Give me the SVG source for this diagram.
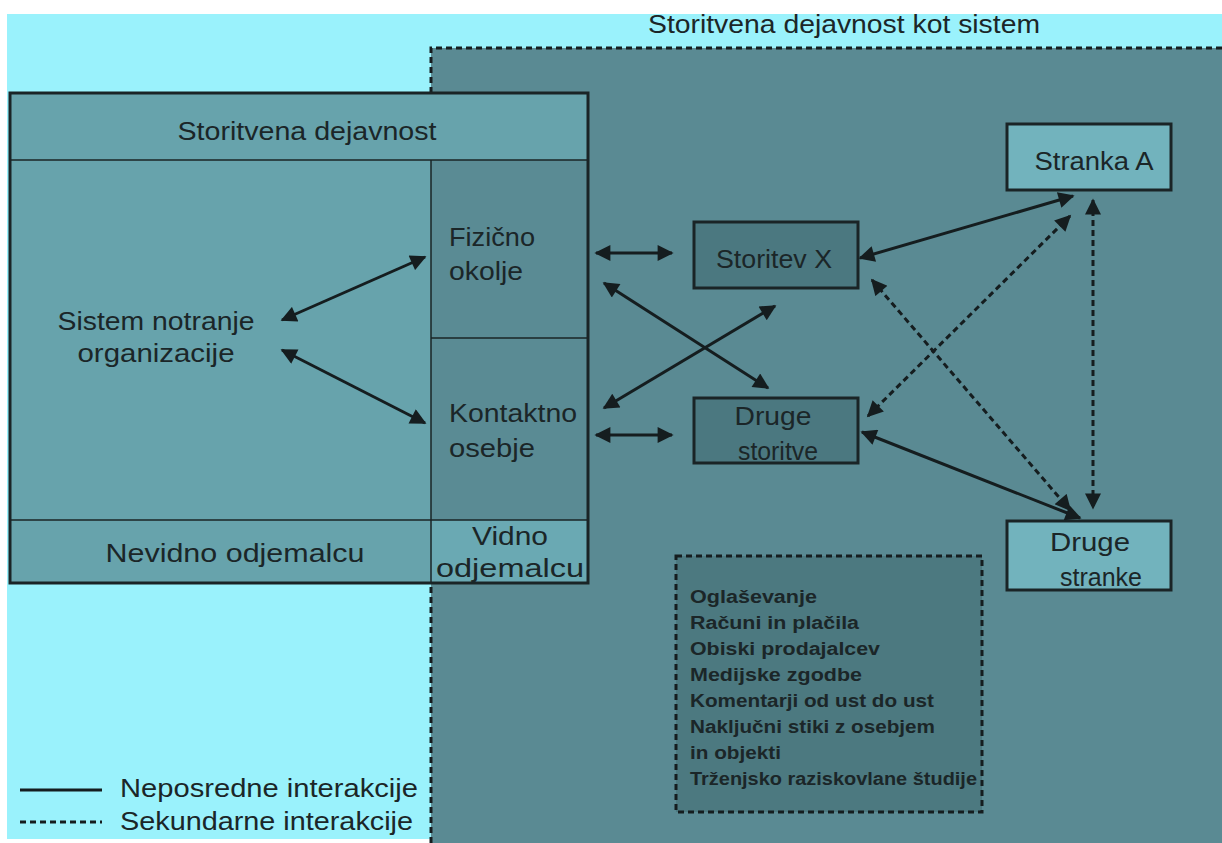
<svg xmlns="http://www.w3.org/2000/svg" width="1222" height="843" viewBox="0 0 1222 843">
<defs>
<style>
.t{font-family:"Liberation Sans",Arial,sans-serif;font-size:25px;fill:#1b2628}
.n{font-family:"Liberation Sans",Arial,sans-serif;font-size:18px;font-weight:bold;fill:#1b2628}
.box{stroke:#1a2426;stroke-width:3}
.ln{stroke:#1a2426;stroke-width:1.5}
.s{stroke:#151d1f;stroke-width:3;fill:none}
.d{stroke:#151d1f;stroke-width:3;fill:none;stroke-dasharray:6 4}
</style>
<marker id="ah" viewBox="0 0 10 10" refX="9" refY="5" markerWidth="18" markerHeight="16" markerUnits="userSpaceOnUse" orient="auto-start-reverse">
<path d="M0,0 L10,5 L0,10 z" fill="#151d1f"/>
</marker>
</defs>
<rect x="0" y="0" width="1222" height="843" fill="#ffffff"/>
<rect x="7" y="14" width="1215" height="825" fill="#9af2fc"/>
<g id="system">
<rect x="431" y="48" width="800" height="800" fill="#5a8a93"/>
<path d="M431,843 L431,48 L1222,48" fill="none" stroke="#151d1f" stroke-width="3" stroke-dasharray="6 4"/>
<text class="t" x="844" y="33" text-anchor="middle" textLength="392" lengthAdjust="spacingAndGlyphs">Storitvena dejavnost kot sistem</text>
</g>
<g id="dejavnost">
<rect x="10" y="93" width="578" height="490" fill="#67a3ac"/>
<rect x="431" y="160" width="157" height="360" fill="#5a8b94"/>
<rect x="431" y="520" width="157" height="63" fill="#6aa9b3"/>
<line class="ln" x1="10" y1="160" x2="588" y2="160"/>
<line class="ln" x1="431" y1="160" x2="431" y2="583"/>
<line class="ln" x1="431" y1="338" x2="588" y2="338"/>
<line class="ln" x1="10" y1="520" x2="588" y2="520"/>
<rect class="box" x="10" y="93" width="578" height="490" fill="none"/>
<text class="t" x="307" y="140" text-anchor="middle" textLength="259" lengthAdjust="spacingAndGlyphs">Storitvena dejavnost</text>
<text class="t" x="156" y="330" text-anchor="middle" textLength="197" lengthAdjust="spacingAndGlyphs">Sistem notranje</text>
<text class="t" x="156" y="362" text-anchor="middle" textLength="157" lengthAdjust="spacingAndGlyphs">organizacije</text>
<text class="t" x="449" y="246" textLength="86" lengthAdjust="spacingAndGlyphs">Fizično</text>
<text class="t" x="449" y="280" textLength="74" lengthAdjust="spacingAndGlyphs">okolje</text>
<text class="t" x="449" y="422" textLength="128" lengthAdjust="spacingAndGlyphs">Kontaktno</text>
<text class="t" x="449" y="457" textLength="86" lengthAdjust="spacingAndGlyphs">osebje</text>
<text class="t" x="235" y="562" text-anchor="middle" textLength="259" lengthAdjust="spacingAndGlyphs">Nevidno odjemalcu</text>
<text class="t" x="510" y="545" text-anchor="middle" textLength="76" lengthAdjust="spacingAndGlyphs">Vidno</text>
<text class="t" x="510" y="577" text-anchor="middle" textLength="148" lengthAdjust="spacingAndGlyphs">odjemalcu</text>
</g>
<g id="storitevX">
<rect class="box" x="694" y="222" width="164" height="66" fill="#4b7880"/>
<text class="t" x="774" y="268" text-anchor="middle" textLength="116" lengthAdjust="spacingAndGlyphs">Storitev X</text>
</g>
<g id="drugeStoritve">
<rect class="box" x="694" y="398" width="164" height="65" fill="#4b7880"/>
<text class="t" x="773" y="425" text-anchor="middle" textLength="77" lengthAdjust="spacingAndGlyphs">Druge</text>
<text class="t" x="778" y="460" text-anchor="middle" textLength="80" lengthAdjust="spacingAndGlyphs">storitve</text>
</g>
<g id="strankaA">
<rect class="box" x="1007" y="124" width="164" height="66" fill="#72b3bd"/>
<text class="t" x="1094" y="170" text-anchor="middle" textLength="119" lengthAdjust="spacingAndGlyphs">Stranka A</text>
</g>
<g id="drugeStranke">
<rect class="box" x="1007" y="521" width="164" height="69" fill="#72b3bd"/>
<text class="t" x="1090" y="551" text-anchor="middle" textLength="80" lengthAdjust="spacingAndGlyphs">Druge</text>
<text class="t" x="1101" y="586" text-anchor="middle" textLength="82" lengthAdjust="spacingAndGlyphs">stranke</text>
</g>
<g id="notes">
<rect x="676" y="556" width="306" height="256" fill="#4c7980" stroke="#151d1f" stroke-width="3" stroke-dasharray="6 4"/>
<text class="n" x="690" y="603" textLength="127" lengthAdjust="spacingAndGlyphs">Oglaševanje</text>
<text class="n" x="690" y="629" textLength="169" lengthAdjust="spacingAndGlyphs">Računi in plačila</text>
<text class="n" x="690" y="655" textLength="190" lengthAdjust="spacingAndGlyphs">Obiski prodajalcev</text>
<text class="n" x="690" y="681" textLength="172" lengthAdjust="spacingAndGlyphs">Medijske zgodbe</text>
<text class="n" x="690" y="707" textLength="244" lengthAdjust="spacingAndGlyphs">Komentarji od ust do ust</text>
<text class="n" x="690" y="733" textLength="245" lengthAdjust="spacingAndGlyphs">Naključni stiki z osebjem</text>
<text class="n" x="690" y="759" textLength="91" lengthAdjust="spacingAndGlyphs">in objekti</text>
<text class="n" x="690" y="785" textLength="287" lengthAdjust="spacingAndGlyphs">Trženjsko raziskovlane študije</text>
</g>
<g id="connectors">
<line class="s" x1="282" y1="320" x2="425" y2="257" marker-start="url(#ah)" marker-end="url(#ah)"/>
<line class="s" x1="282" y1="350" x2="425" y2="423" marker-start="url(#ah)" marker-end="url(#ah)"/>
<line class="s" x1="596" y1="253" x2="672" y2="253" marker-start="url(#ah)" marker-end="url(#ah)"/>
<line class="s" x1="596" y1="435" x2="672" y2="435" marker-start="url(#ah)" marker-end="url(#ah)"/>
<line class="s" x1="604" y1="283" x2="768" y2="388" marker-start="url(#ah)" marker-end="url(#ah)"/>
<line class="s" x1="604" y1="408" x2="775" y2="306" marker-start="url(#ah)" marker-end="url(#ah)"/>
<line class="s" x1="860" y1="258" x2="1073" y2="196" marker-start="url(#ah)" marker-end="url(#ah)"/>
<line class="s" x1="862" y1="432" x2="1080" y2="518" marker-start="url(#ah)" marker-end="url(#ah)"/>
<line class="d" x1="872" y1="280" x2="1070" y2="510" marker-start="url(#ah)" marker-end="url(#ah)"/>
<line class="d" x1="868" y1="416" x2="1070" y2="216" marker-start="url(#ah)" marker-end="url(#ah)"/>
<line class="d" x1="1093" y1="200" x2="1093" y2="508" marker-start="url(#ah)" marker-end="url(#ah)"/>
</g>
<g id="legend">
<line class="s" x1="20" y1="790" x2="102" y2="790"/>
<line class="d" x1="20" y1="822" x2="102" y2="822" stroke-dasharray="5 3"/>
<text class="t" x="120" y="797" textLength="298" lengthAdjust="spacingAndGlyphs">Neposredne interakcije</text>
<text class="t" x="120" y="830" textLength="293" lengthAdjust="spacingAndGlyphs">Sekundarne interakcije</text>
</g>
</svg>
